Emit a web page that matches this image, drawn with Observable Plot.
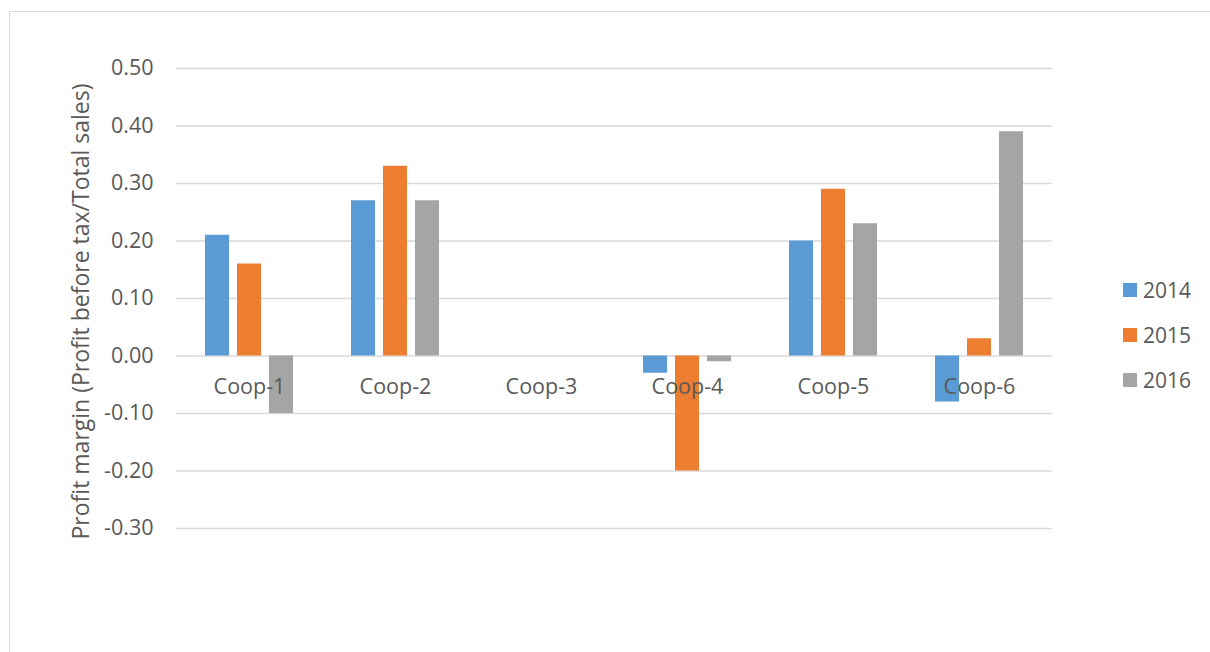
<!DOCTYPE html>
<html>
<head>
<meta charset="utf-8">
<script src="https://cdn.jsdelivr.net/npm/d3@7"></script>
<script src="https://cdn.jsdelivr.net/npm/@observablehq/plot@0.6"></script>
<style>
  html, body { margin: 0; padding: 0; background: #fff; overflow: hidden; }
  #page { position: relative; width: 1210px; height: 652px; overflow: hidden; }
  #frame {
    position: absolute; left: 9px; top: 11px; width: 1400px; height: 900px;
    border-left: 1.5px solid #d9d9d9; border-top: 1.5px solid #d9d9d9;
  }
  #chart { position: absolute; left: 0; top: 0; }
  #legend {
    position: absolute; left: 1123px; top: 276px;
    font-family: "Open Sans", sans-serif; font-size: 21px; color: #595959;
  }
  .item { display: flex; align-items: center; height: 28px; margin-bottom: 17px; }
  .swatch { width: 14px; height: 14px; margin-right: 6px; }
</style>
</head>
<body>
<div id="page">
  <div id="frame"></div>
  <div id="chart"></div>
  <div id="legend"></div>
</div>
<script>
// Cooperatives and reporting years
const categories = ["Coop-1", "Coop-2", "Coop-3", "Coop-4", "Coop-5", "Coop-6"];
const years = ["2014", "2015", "2016"];
const colors = ["#5b9bd5", "#ed7d31", "#a5a5a5"];

// Profit margin per cooperative, one array per year (Coop-3 reported nothing)
const margin2014 = [0.21, 0.27, null, -0.03, 0.20, -0.08];
const margin2015 = [0.16, 0.33, null, -0.20, 0.29, 0.03];
const margin2016 = [-0.10, 0.27, null, -0.01, 0.23, 0.39];

const yTicks = [-0.3, -0.2, -0.1, 0, 0.1, 0.2, 0.3, 0.4, 0.5];
const yLabel = "Profit margin (Profit before tax/Total sales)";

const series = [margin2014, margin2015, margin2016];
const rows = [];
categories.forEach((c, i) => {
  years.forEach((y, j) => {
    rows.push({coop: c, year: y, value: series[j][i]});
  });
});

const textColor = "#595959";
const gridColor = "#d9d9d9";
const fs = 21.5;

const chart = Plot.plot({
  width: 1210,
  height: 652,
  marginLeft: 175,
  marginRight: 157,
  marginTop: 68,
  marginBottom: 124,
  style: {fontFamily: "Open Sans, sans-serif", fontSize: fs + "px", color: textColor, background: "transparent"},
  fx: {domain: categories, paddingInner: 0, paddingOuter: 0, axis: null, label: null},
  x: {domain: years, paddingInner: 0.242, paddingOuter: 0.838, axis: null, label: null},
  y: {domain: [-0.3, 0.5], axis: null},
  color: {domain: years, range: colors},
  marks: [
    Plot.gridY(yTicks, {stroke: gridColor, strokeOpacity: 1, strokeWidth: 1.4}),
    Plot.axisY(yTicks, {
      tickSize: 0, tickPadding: 23, label: null,
      tickFormat: d => d.toFixed(2), fill: textColor, fontSize: fs
    }),
    Plot.barY(rows.filter(d => d.value != null), {
      fx: "coop", x: "year", y: "value", fill: "year"
    }),
    Plot.text(categories, {
      fx: d => d, y: () => 0, text: d => d, dy: 31,
      fill: textColor, fontSize: fs
    }),
    Plot.text([yLabel], {
      fx: () => categories[0], frameAnchor: "left", dx: -88, dy: 13,
      text: d => d, rotate: -90, fill: textColor, fontSize: 23,
      textAnchor: "middle", lineAnchor: "bottom"
    })
  ]
});
document.getElementById("chart").appendChild(chart);

// Vertical legend on the right
const legend = document.getElementById("legend");
years.forEach((y, i) => {
  const item = document.createElement("div");
  item.className = "item";
  const sw = document.createElement("div");
  sw.className = "swatch";
  sw.style.background = colors[i];
  const label = document.createElement("span");
  label.textContent = y;
  item.appendChild(sw);
  item.appendChild(label);
  legend.appendChild(item);
});
</script>
</body>
</html>
